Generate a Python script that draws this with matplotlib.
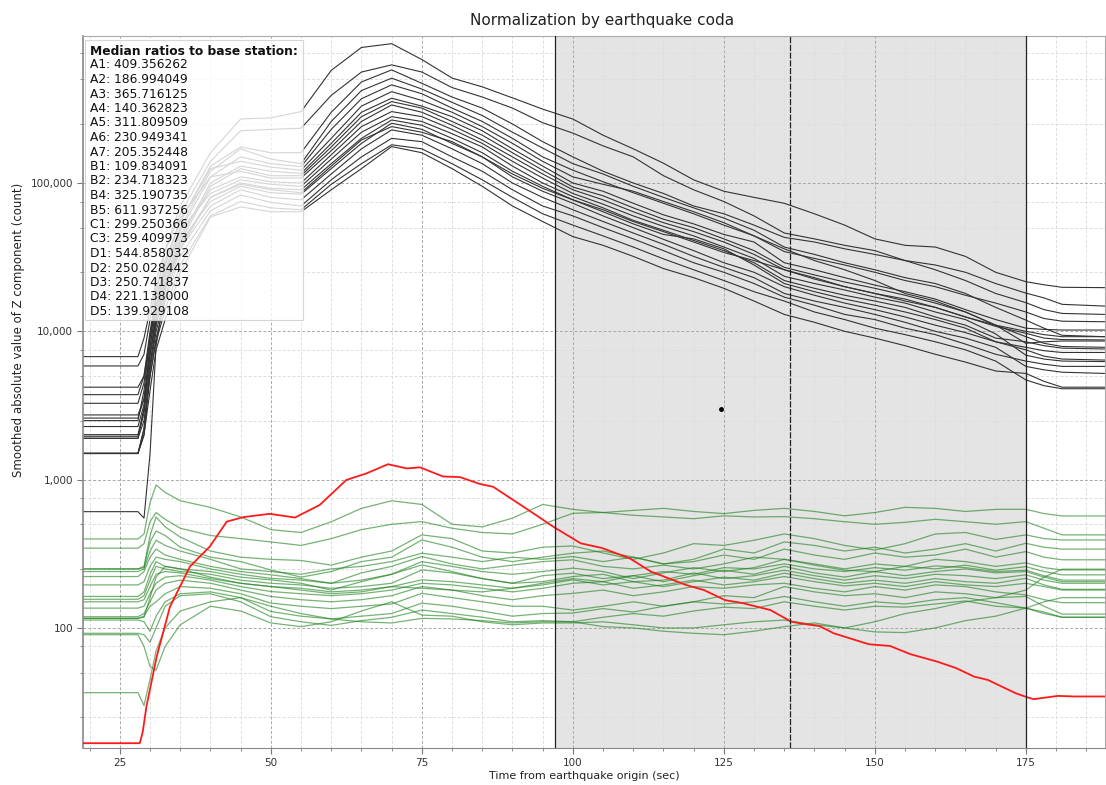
import numpy as np
import matplotlib.pyplot as plt
from matplotlib.ticker import FixedLocator, FuncFormatter, MultipleLocator
from matplotlib.patches import Rectangle

# sample times (sec) shared by the station traces
t = [19, 28, 29, 30, 31, 32.5,
     35, 40, 45, 50, 55, 60, 65, 70,
     75, 80, 85, 90, 95, 100,
     105, 110, 115, 120, 125, 130,
     135, 140, 145, 150, 155, 160,
     165, 170, 175, 178, 181, 188]

# raw station traces, thousands of counts (black)
raw_k = [
    [2.5, 2.5, 4, 9, 18, 35, 70, 160, 270, 275, 303, 575, 820, 870, 680, 510, 445, 375, 315, 270,
     210, 170, 136, 105, 88, 80, 73, 62, 52, 42, 38, 37, 32, 25, 21.6, 20.6, 19.8, 19.7],
    [6.75, 6.75, 9, 14, 22, 35, 62, 140, 225, 230, 234, 390, 560, 626, 560, 440, 380, 320, 255, 217,
     178, 150, 112, 90, 75, 60, 46, 42, 38, 35, 30, 26, 22, 18, 15.6, 14, 13.2, 13.0],
    [5.84, 5.84, 7, 12, 20, 30, 55, 130, 175, 160, 160, 300, 480, 579, 470, 380, 320, 250, 190, 150,
     120, 100, 85, 70, 62, 52, 43, 40, 36, 33, 30, 28, 25, 21, 18.1, 16.8, 15.2, 14.8],
    [4.2, 4.2, 5, 9, 15, 26, 50, 120, 170, 145, 135, 260, 420, 509, 430, 350, 285, 220, 172, 135,
     115, 95, 80, 68, 58, 48, 37, 33, 29, 26, 23, 21, 18, 14.5, 11.9, 10.5, 9.4, 9.2],
    [1.9, 1.9, 3, 8, 14, 24, 48, 110, 150, 135, 129, 230, 370, 459, 400, 320, 260, 200, 150, 122,
     102, 86, 73, 62, 52, 44, 34.5, 31, 28, 25, 22, 20, 17.5, 15.5, 13.5, 12.2, 11.7, 11.6],
    [3.74, 3.74, 5, 10, 17, 28, 55, 125, 140, 128, 122, 200, 330, 413, 360, 300, 240, 185, 140, 110,
     98, 88, 75, 64, 54, 44, 36, 30, 26, 22, 18, 16, 13.5, 11, 9.2, 8.3, 7.9, 7.8],
    [2.73, 2.73, 3.5, 7, 12, 21, 42, 100, 130, 120, 116, 185, 300, 373, 330, 280, 225, 170, 130, 100,
     88, 73, 61, 53, 45, 40, 29, 26, 23, 20.5, 18.5, 16.5, 14, 12, 10.5, 10.3, 10.2, 10.2],
    [1.5, 1.5, 2.2, 6, 11, 19, 40, 95, 125, 112, 112, 175, 280, 354, 320, 260, 210, 160, 122, 94,
     82, 68, 57, 50, 42, 35, 27, 24, 21.5, 19.5, 17.5, 15.5, 13.5, 11, 8.3, 8.5, 8.6, 8.6],
    [3.27, 3.27, 4.5, 9, 16, 28, 58, 110, 120, 108, 108, 165, 260, 336, 300, 245, 195, 150, 115, 90,
     77, 64, 54, 47, 40, 33, 26, 22.5, 20, 18, 16.5, 14.5, 12.5, 10.8, 9.7, 9, 8.8, 8.75],
    [2.01, 2.01, 3, 7, 13, 22, 45, 90, 110, 102, 100, 155, 240, 303, 280, 230, 185, 140, 108, 85,
     72, 60, 51, 44, 37, 31, 23.5, 21, 19, 17, 15.5, 13.5, 12, 9.6, 6.9, 6.5, 6.3, 6.25],
    [2.6, 2.6, 3.5, 8, 14, 24, 48, 85, 105, 98, 95, 145, 220, 280, 260, 215, 175, 130, 100, 81,
     68, 56, 48, 41, 35, 29, 22, 19.5, 17.5, 16, 14.5, 12.5, 11, 9, 8.5, 8, 7.7, 7.6],
    [0.608, 0.608, 0.55, 1.5, 8, 19, 38, 80, 100, 92, 90, 135, 200, 266, 245, 200, 160, 120, 95, 77,
     64, 53, 45, 42, 36, 28, 21, 18.5, 16.5, 15, 13.5, 12, 10.5, 8.5, 7.8, 7.4, 7.2, 7.2],
    [1.96, 1.96, 2.8, 6, 11, 20, 40, 75, 95, 86, 84, 125, 185, 253, 230, 185, 150, 110, 88, 73,
     60, 50, 41.7, 35, 29, 25, 20, 17.5, 15.5, 14, 12.5, 11, 9.8, 8.5, 7.5, 6.8, 6.5, 6.4],
    [2.28, 2.28, 3.2, 7, 12, 20, 36, 70, 90, 80, 77, 115, 170, 228, 210, 170, 135, 100, 80, 66,
     55, 46, 38.6, 32, 27, 23, 18, 16, 14.5, 13, 11.5, 10, 9, 7.8, 5.8, 5.5, 5.3, 5.2],
    [1.5, 1.5, 2, 5, 9, 16, 32, 65, 83, 74, 70, 105, 150, 200, 190, 150, 120, 90, 70, 60,
     50, 42, 35, 29, 25, 21, 17, 15, 13, 12, 10.5, 9.5, 8.2, 7, 6.3, 6, 5.8, 5.8],
    [1.9, 1.9, 2.5, 5, 8.5, 14, 28, 60, 75, 68, 66, 98, 135, 181, 170, 135, 105, 80, 62, 52,
     44, 37, 30.8, 26, 22, 18.5, 16, 13.5, 12, 10.5, 9.5, 8.5, 7.5, 6.3, 4.7, 4.3, 4.1, 4.1],
    [1.51, 1.51, 2, 4, 7.5, 12, 25, 59, 69, 64, 64, 90, 125, 176, 160, 125, 95, 70, 55, 43.5,
     38, 32, 26.5, 23, 19.5, 16, 13, 11.5, 10, 9, 8, 7, 6.2, 5.4, 5.2, 4.6, 4.2, 4.2],
    [1.5, 1.5, 2.2, 5.5, 10, 17, 36, 80, 98, 90, 86, 130, 195, 240, 220, 190, 150, 115, 92, 77,
     66, 55, 47, 40, 34, 30, 26, 23, 20, 18, 16, 14.5, 12.5, 11, 10, 9.5, 9.2, 9.2],
]

# traces divided by their median ratio (green), counts
norm = [
    [398, 398, 430, 700, 920, 820, 720, 650, 560, 460, 440, 520, 640, 720, 680, 500, 480, 550, 680, 630,
     600, 620, 640, 610, 590, 620, 640, 610, 570, 600, 650, 640, 610, 630, 631, 590, 569, 569],
    [345, 345, 370, 520, 600, 540, 470, 420, 400, 380, 360, 400, 460, 500, 521, 470, 440, 430, 500, 593,
     600, 575, 560, 545, 570, 560, 563, 545, 520, 500, 515, 540, 520, 500, 521, 470, 424, 424],
    [250, 250, 260, 420, 560, 480, 410, 330, 300, 290, 285, 265, 300, 330, 424, 400, 330, 320, 350, 357,
     320, 290, 320, 370, 360, 390, 430, 400, 360, 335, 370, 430, 440, 395, 424, 400, 392, 392],
    [250, 250, 255, 380, 450, 420, 350, 300, 280, 246, 220, 240, 280, 300, 392, 350, 300, 280, 300, 319,
     330, 300, 270, 290, 340, 320, 380, 360, 330, 350, 320, 340, 370, 330, 372, 350, 340, 340],
    [240, 240, 250, 330, 390, 360, 330, 290, 250, 240, 230, 250, 260, 280, 319, 300, 280, 300, 290, 303,
     280, 300, 270, 280, 310, 290, 340, 310, 290, 320, 300, 310, 340, 300, 327, 300, 288, 288],
    [222, 222, 240, 300, 340, 310, 290, 260, 240, 228, 215, 200, 235, 260, 303, 270, 250, 265, 280, 288,
     260, 250, 265, 250, 270, 300, 290, 270, 250, 270, 260, 290, 280, 260, 275, 255, 246, 246],
    [195, 195, 205, 260, 300, 290, 280, 250, 230, 216, 210, 200, 210, 230, 280, 260, 240, 230, 240, 253,
     240, 215, 235, 255, 240, 255, 290, 265, 245, 240, 260, 250, 265, 245, 259, 240, 228, 228],
    [163, 163, 175, 230, 280, 260, 250, 240, 220, 211, 200, 180, 205, 230, 266, 240, 215, 200, 225, 234,
     215, 225, 205, 225, 245, 230, 260, 235, 220, 240, 225, 240, 250, 235, 240, 220, 205, 205],
    [156, 156, 165, 210, 260, 250, 240, 230, 210, 200, 195, 185, 190, 200, 246, 235, 215, 200, 205, 222,
     230, 205, 210, 235, 215, 225, 245, 225, 210, 225, 215, 230, 225, 215, 228, 210, 200, 200],
    [150, 150, 155, 190, 230, 240, 235, 215, 200, 190, 185, 175, 180, 190, 211, 205, 195, 185, 195, 211,
     195, 205, 190, 205, 220, 210, 234, 215, 200, 210, 200, 215, 205, 200, 216, 195, 182, 182],
    [136, 136, 140, 170, 200, 220, 225, 210, 190, 176, 170, 165, 170, 180, 200, 195, 185, 175, 185, 200,
     205, 185, 195, 210, 195, 205, 222, 205, 192, 200, 190, 205, 195, 190, 200, 190, 180, 180],
    [119, 119, 125, 150, 180, 200, 210, 200, 180, 163, 155, 150, 155, 165, 190, 180, 165, 155, 165, 171,
     180, 165, 175, 190, 185, 195, 200, 185, 175, 190, 180, 195, 190, 175, 167, 155, 148, 148],
    [116, 116, 120, 140, 150, 170, 190, 185, 170, 147, 140, 135, 140, 145, 171, 160, 150, 140, 140, 132,
     140, 150, 140, 150, 165, 160, 190, 175, 165, 170, 160, 175, 170, 160, 163, 140, 124, 124],
    [113, 113, 110, 95, 120, 150, 170, 175, 160, 129, 120, 115, 120, 125, 147, 140, 130, 120, 125, 126,
     135, 128, 140, 150, 145, 150, 163, 150, 140, 150, 145, 155, 160, 148, 136, 125, 118, 118],
    [92, 92, 90, 80, 100, 140, 165, 170, 150, 119, 110, 104, 112, 118, 132, 125, 118, 110, 112, 110,
     118, 125, 120, 130, 138, 135, 150, 140, 132, 140, 138, 145, 152, 140, 136, 128, 118, 118],
    [90, 90, 75, 55, 52, 75, 105, 140, 130, 108, 102, 110, 130, 150, 122, 120, 110, 105, 108, 108,
     110, 105, 100, 100, 105, 110, 113, 105, 100, 110, 125, 135, 150, 160, 180, 220, 249, 249],
    [36.6, 36.6, 30, 45, 70, 100, 130, 150, 160, 140, 125, 115, 110, 108, 116, 115, 112, 108, 110, 110,
     102, 100, 95, 92, 90, 95, 102, 108, 100, 94, 93, 100, 112, 120, 136, 150, 160, 160],
    [116, 116, 118, 160, 220, 260, 250, 220, 200, 190, 180, 170, 175, 190, 185, 180, 175, 185, 200, 215,
     205, 225, 240, 230, 255, 250, 270, 250, 240, 255, 245, 262, 255, 240, 245, 225, 210, 210],
]

# base station trace (red)
base_t = [19, 28.3, 28.8, 29.4, 31.1, 33.3, 36.6, 39.9, 42.7, 45.4, 49.8, 54, 58.1, 62.5, 65.8,
          69.4, 72.5, 74.7, 78.5, 81.3, 84.6, 86.8, 90.1, 93.4, 96.7, 101.3, 104.8, 109.4, 112.9,
          118.7, 121.7, 125.2, 128.1, 132.7, 136.2, 138.5, 140.8, 143.2, 149, 152.5, 155.9, 160.3,
          163.5, 166.4, 168.7, 173.3, 175.2, 176.3, 180.3, 183, 188]
base_v = [16.7, 16.7, 20, 29.5, 64, 139, 259, 354, 521, 558, 588, 555, 675, 995, 1100,
          1270, 1190, 1210, 1050, 1040, 935, 895, 730, 595, 483, 372, 346, 295, 240,
          195, 180, 154, 147, 132, 110, 106, 103, 92, 77.6, 75.6, 66.5, 59.3,
          53.5, 47, 44.6, 36.3, 34.1, 33.1, 34.8, 34.5, 34.5]

stations = ['A1', 'A2', 'A3', 'A4', 'A5', 'A6', 'A7', 'B1', 'B2', 'B4', 'B5',
            'C1', 'C3', 'D1', 'D2', 'D3', 'D4', 'D5']
ratios = [409.356262, 186.994049, 365.716125, 140.362823, 311.809509, 230.949341,
          205.352448, 109.834091, 234.718323, 325.190735, 611.937256, 299.250366,
          259.409973, 544.858032, 250.028442, 250.741837, 221.138000, 139.929108]

# coda window
win_start, win_mid, win_end = 97, 136, 175

W, H = 1106, 785
fig = plt.figure(figsize=(W / 100, H / 100), dpi=100)
ax = fig.add_axes([83 / W, 1 - 748 / H, 1022 / W, 712 / H])
ax.set_yscale('log')
ax.set_xlim(18.9, 188.1)
ax.set_ylim(15.5, 9.8e5)

ax.axvspan(win_start, win_end, color='#e4e4e4', lw=0, zorder=0.2)

for v in raw_k:
    ax.plot(t, np.array(v) * 1000, color='#333333', lw=0.8, zorder=2)
for v in norm:
    ax.plot(t, v, color='#1a801a', lw=0.9, alpha=0.6, zorder=2)
ax.plot(base_t, base_v, color='#ff1a1a', lw=1.3, zorder=3)

ax.axvline(win_start, color='#222222', lw=0.9, zorder=4)
ax.axvline(win_end, color='#222222', lw=0.9, zorder=4)
ax.axvline(win_mid, color='#222222', lw=0.9, ls=(0, (5, 1.2)), zorder=4)
ax.plot([124.5], [3000], 'o', color='black', ms=2.5, zorder=4)

# axes, ticks, grid
ax.xaxis.set_major_locator(MultipleLocator(25))
ax.xaxis.set_minor_locator(MultipleLocator(5))
ax.yaxis.set_major_locator(FixedLocator([100, 1000, 10000, 100000]))
ax.yaxis.set_minor_locator(FixedLocator([k * 10 ** e for e in range(1, 6) for k in (2.5, 5, 7.5)]))
ax.yaxis.set_major_formatter(FuncFormatter(lambda v, p: f'{v:,.0f}'))
ax.yaxis.set_minor_formatter(FuncFormatter(lambda v, p: ''))
ax.set_axisbelow(True)
ax.grid(which='major', color='#a8a8a8', ls=(0, (3, 2)), lw=0.7)
ax.grid(which='minor', color='#dddddd', ls=(0, (3, 2)), lw=0.7)
ax.tick_params(which='major', length=4, color='#777777', labelsize=7.5, labelcolor='#333333', pad=3)
ax.tick_params(which='minor', length=2, color='#777777')
for s in ax.spines.values():
    s.set_color('#aaaaaa')
    s.set_linewidth(0.8)
ax.spines['left'].set_color('#888888')
ax.spines['left'].set_linewidth(1.2)
ax.spines['bottom'].set_color('#888888')

ax.set_xlabel('Time from earthquake origin (sec)', fontsize=8, color='#222222')
ax.xaxis.set_label_coords(0.491, -0.032)
ax.set_ylabel('Smoothed absolute value of Z component (count)', fontsize=8.5, color='#222222')
ax.yaxis.set_label_coords(-0.0565, 0.587)
fig.text(602 / W, 1 - 20 / H, 'Normalization by earthquake coda', ha='center', va='center',
         fontsize=11, color='#222222')

# ratio box
ax.add_patch(Rectangle((2 / 1022, (748 - 320) / 712), 218 / 1022, 280 / 712, transform=ax.transAxes,
                       facecolor='white', alpha=0.8, edgecolor='#cccccc', lw=0.8, zorder=5))
ax.text(7 / 1022, (748 - 51.5) / 712, 'Median ratios to base station:', transform=ax.transAxes,
        fontsize=8.8, fontweight='bold', va='center', ha='left', color='#111111', zorder=6)
for i, (s, r) in enumerate(zip(stations, ratios)):
    ax.text(7 / 1022, (748 - 65 - 14.5 * i) / 712, f'{s}: {r:.6f}', transform=ax.transAxes,
            fontsize=8.8, va='center', ha='left', color='#111111', zorder=6)

fig.savefig('out.png', dpi=100)
